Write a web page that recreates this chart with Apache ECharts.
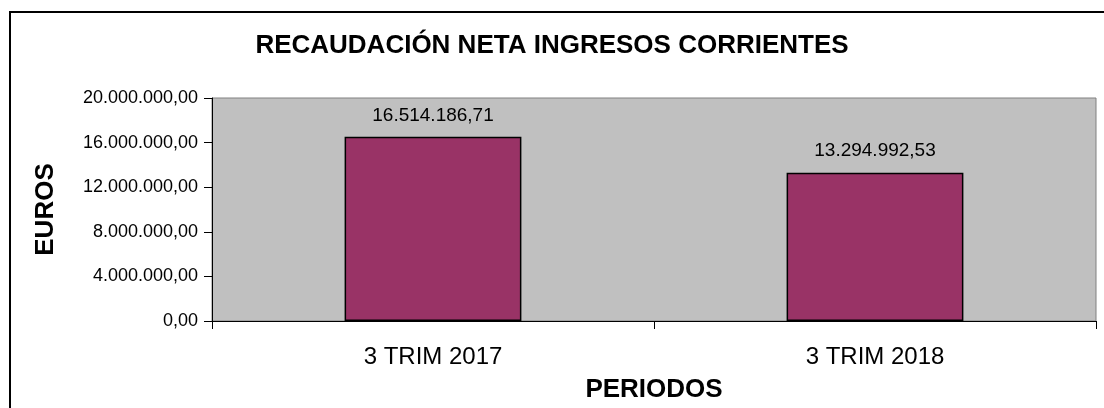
<!DOCTYPE html>
<html>
<head>
<meta charset="utf-8">
<script src="https://cdn.jsdelivr.net/npm/echarts@6/dist/echarts.min.js"></script>
<style>
  html, body { margin: 0; padding: 0; background: #fff; }
  #chart { width: 1104px; height: 408px; }
</style>
</head>
<body>
<div id="chart"></div>
<script>
// datos del gráfico
const periodos = ["3 TRIM 2017", "3 TRIM 2018"];
const recaudacion = [16514186.71, 13294992.53];
const ejeMin = 0;
const ejeMax = 20000000;
const ejePaso = 4000000;

// formato español: 16.514.186,71
function fmtEs(v) {
  const parts = Number(v).toFixed(2).split(".");
  const ent = parts[0].replace(/\B(?=(\d{3})+(?!\d))/g, ".");
  return ent + "," + parts[1];
}

const font = "Liberation Sans, Arial, sans-serif";
const chart = echarts.init(document.getElementById("chart"));

const option = {
  animation: false,
  textStyle: { fontFamily: font, color: "#000" },
  title: {
    text: "RECAUDACIÓN NETA INGRESOS CORRIENTES",
    left: "center",
    top: 28,
    textStyle: { fontFamily: font, fontSize: 26, fontWeight: "bold", color: "#000" }
  },
  graphic: [
    {
      type: "rect",
      shape: { x: 10, y: 12, width: 1200, height: 500 },
      style: { fill: "none", stroke: "#000", lineWidth: 2 },
      silent: true
    }
  ],
  grid: {
    left: 212,
    top: 98,
    right: 8,
    bottom: 87,
    outerBoundsMode: "none",
    show: true,
    backgroundColor: "#c0c0c0",
    borderColor: "#808080",
    borderWidth: 1
  },
  xAxis: {
    type: "category",
    data: periodos,
    name: "PERIODOS",
    nameLocation: "middle",
    nameGap: 56,
    nameTextStyle: { fontFamily: font, fontSize: 26, fontWeight: "bold", color: "#000" },
    axisLine: { lineStyle: { color: "#000", width: 1 } },
    axisTick: { show: true, length: 8, lineStyle: { color: "#000" } },
    axisLabel: { fontFamily: font, fontSize: 24, color: "#000", margin: 24 }
  },
  yAxis: {
    type: "value",
    min: ejeMin,
    max: ejeMax,
    interval: ejePaso,
    name: "EUROS",
    nameLocation: "middle",
    nameGap: 153,
    nameRotate: 90,
    nameTextStyle: { fontFamily: font, fontSize: 26, fontWeight: "bold", color: "#000" },
    axisLine: { show: true, lineStyle: { color: "#000", width: 1 } },
    axisTick: { show: true, length: 8, lineStyle: { color: "#000" } },
    splitLine: { show: false },
    axisLabel: { fontFamily: font, fontSize: 18, color: "#000", margin: 14, formatter: fmtEs }
  },
  series: [
    {
      type: "bar",
      data: recaudacion,
      barWidth: "40%",
      itemStyle: { color: "#993366", borderColor: "#000", borderWidth: 1.5 },
      label: {
        show: true,
        position: "top",
        distance: 12,
        fontFamily: font,
        fontSize: 19,
        color: "#000",
        formatter: (p) => fmtEs(p.value)
      }
    }
  ]
};

chart.setOption(option);
</script>
</body>
</html>
